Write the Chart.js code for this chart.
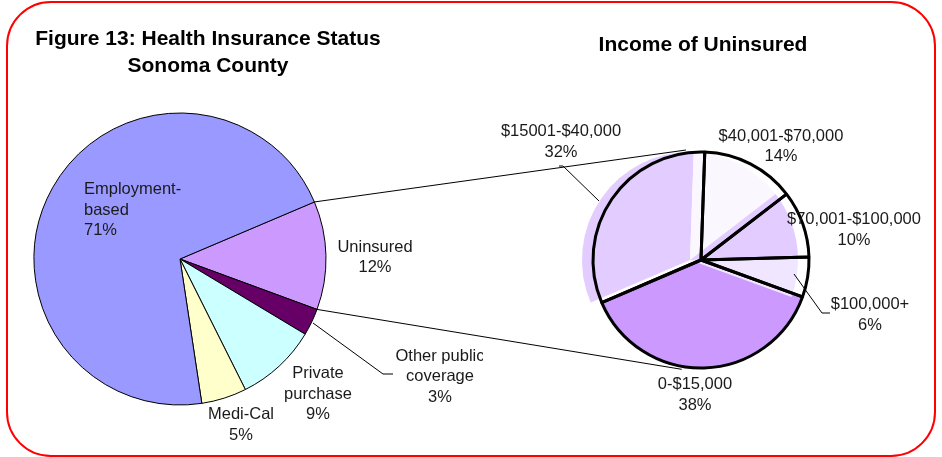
<!DOCTYPE html>
<html>
<head>
<meta charset="utf-8">
<script src="https://cdn.jsdelivr.net/npm/chart.js@4.4.0/dist/chart.umd.min.js"></script>
<style>
  body { margin: 0; background: #fff; }
  #wrap { position: relative; width: 942px; height: 457px; overflow: hidden; font-family: "Liberation Sans", Arial, sans-serif; }
  canvas { position: absolute; left: 0; top: 0; }
  .frame { position: absolute; left: 6px; top: 1px; width: 926px; height: 452px; border: 2px solid #ff0000; border-radius: 45px; }
  .t { position: absolute; font-weight: bold; font-size: 21px; line-height: 27px; text-align: center; color: #000; }
  .lb { position: absolute; font-size: 16.5px; line-height: 20.7px; color: #1a1a1a; white-space: pre; }
</style>
</head>
<body>
<div id="wrap">
  <div class="frame"></div>
  <canvas id="cLeft" width="942" height="457"></canvas>
  <canvas id="cRightBase" width="942" height="457"></canvas>
  <canvas id="cRightFill" width="942" height="457"></canvas>
  <canvas id="cRightLines" width="942" height="457"></canvas>
  <div class="t" style="left:8px;top:24px;width:400px">Figure 13: Health Insurance Status<br>Sonoma County</div>
  <div class="t" style="left:503px;top:30px;width:400px">Income of Uninsured</div>
</div>
<script>
// health insurance status (left pie)
const leftCats = ['Uninsured', 'Other public\ncoverage', 'Private\npurchase', 'Medi-Cal', 'Employment-\nbased'];
const leftVals = [12, 3, 9, 5, 71];
const leftColors = ['#CC99FF', '#660066', '#CCFFFF', '#FFFFCC', '#9999FF'];

// income of uninsured (right pie)
const rightCats = ['0-$15,000', '$15001-$40,000', '$40,001-$70,000', '$70,001-$100,000', '$100,000+'];
const rightVals = [38, 32, 14, 10, 6];
const rightColors = ['#CC99FF', '#E3CCFF', '#FBF7FF', '#E3CCFF', '#F1E6FF'];

// label anchors: [centre x (or left x), first baseline, align, clip right]
const leftLabelPos = [[375, 251.7, 'c'], [440, 360.7, 'c', 483], [318, 378, 'c'], [241, 419, 'c'], [84, 194, 'l']];
const rightLabelPos = [[695, 389, 'c'], [561, 136, 'c'], [781, 140.7, 'c'], [854, 224, 'c'], [870, 309, 'c']];

// callout lines
const leaders = [
  [[313, 323], [383, 374], [393, 374]],
  [[559, 166], [563, 166], [599, 201]],
  [[794, 274], [822, 313], [830, 313]]
];

const wrap = document.getElementById('wrap');
const clear = 'rgba(0,0,0,0)';

function addLabel(text, pos) {
  const [x, base, align, clipRight] = pos;
  const d = document.createElement('div');
  d.className = 'lb';
  d.textContent = text;
  d.style.top = (base - 16.1) + 'px';
  if (align === 'l') {
    d.style.left = x + 'px';
  } else {
    d.style.left = (x - 150) + 'px';
    d.style.width = '300px';
    d.style.textAlign = 'center';
  }
  if (clipRight) d.style.clipPath = 'inset(0 ' + (x + 150 - clipRight) + 'px 0 0)';
  wrap.appendChild(d);
}

const baseOpts = (rotation, pad) => ({
  responsive: false,
  animation: false,
  rotation: rotation,
  layout: { padding: pad },
  plugins: { legend: { display: false }, tooltip: { enabled: false } }
});

const leftChart = new Chart(document.getElementById('cLeft'), {
  type: 'pie',
  data: {
    labels: leftCats.map(s => s.replace('\n', ' ')),
    datasets: [{ data: leftVals, backgroundColor: leftColors, borderColor: '#000', borderWidth: 1, radius: 146 }]
  },
  options: baseOpts(67, { left: 30, right: 612, top: 113, bottom: 52 })
});

const rightPad = { left: 581, right: 121, top: 140, bottom: 77 };
const rightLabels = rightCats;

// un-shifted fill of the biggest slice
new Chart(document.getElementById('cRightBase'), {
  type: 'pie',
  data: {
    labels: rightLabels,
    datasets: [{ data: rightVals, backgroundColor: rightColors.map((c, i) => i === 0 ? c : clear), borderWidth: 0, radius: 108 }]
  },
  options: baseOpts(110, rightPad)
});

// other slices' fills drawn slightly offset to the left
new Chart(document.getElementById('cRightFill'), {
  type: 'pie',
  data: {
    labels: rightLabels,
    datasets: [{ data: rightVals, backgroundColor: rightColors.map((c, i) => i === 0 ? clear : c), borderWidth: 0, radius: 108 }]
  },
  options: baseOpts(110, { left: rightPad.left - 11, right: rightPad.right + 11, top: rightPad.top, bottom: rightPad.bottom })
});

const calloutPlugin = {
  id: 'callouts',
  afterDraw(chart) {
    const ctx = chart.ctx;
    const la = leftChart.getDatasetMeta(0).data[0];
    const ra = chart.getDatasetMeta(0).data[0];
    const p1 = [la.x + la.outerRadius * Math.cos(la.startAngle), la.y + la.outerRadius * Math.sin(la.startAngle)];
    const p2 = [la.x + la.outerRadius * Math.cos(la.endAngle), la.y + la.outerRadius * Math.sin(la.endAngle)];
    const r = ra.outerRadius + 3;
    const a1 = -97.8 * Math.PI / 180, a2 = 100 * Math.PI / 180;
    const q1 = [ra.x + r * Math.cos(a1), ra.y + r * Math.sin(a1)];
    const q2 = [ra.x + r * Math.cos(a2), ra.y + r * Math.sin(a2)];
    ctx.save();
    ctx.strokeStyle = '#000';
    ctx.lineWidth = 1;
    ctx.beginPath();
    ctx.moveTo(p1[0], p1[1]); ctx.lineTo(q1[0], q1[1]);
    ctx.moveTo(p2[0], p2[1]); ctx.lineTo(q2[0], q2[1]);
    leaders.forEach(pts => {
      ctx.moveTo(pts[0][0], pts[0][1]);
      for (let i = 1; i < pts.length; i++) ctx.lineTo(pts[i][0], pts[i][1]);
    });
    ctx.stroke();
    ctx.restore();
  }
};

new Chart(document.getElementById('cRightLines'), {
  type: 'pie',
  data: {
    labels: rightLabels,
    datasets: [{ data: rightVals, backgroundColor: clear, borderColor: '#000', borderWidth: 3, radius: 108 }]
  },
  options: baseOpts(110, rightPad),
  plugins: [calloutPlugin]
});

leftCats.forEach((c, i) => addLabel(c + '\n' + leftVals[i] + '%', leftLabelPos[i]));
rightCats.forEach((c, i) => addLabel(c + '\n' + rightVals[i] + '%', rightLabelPos[i]));
</script>
</body>
</html>
